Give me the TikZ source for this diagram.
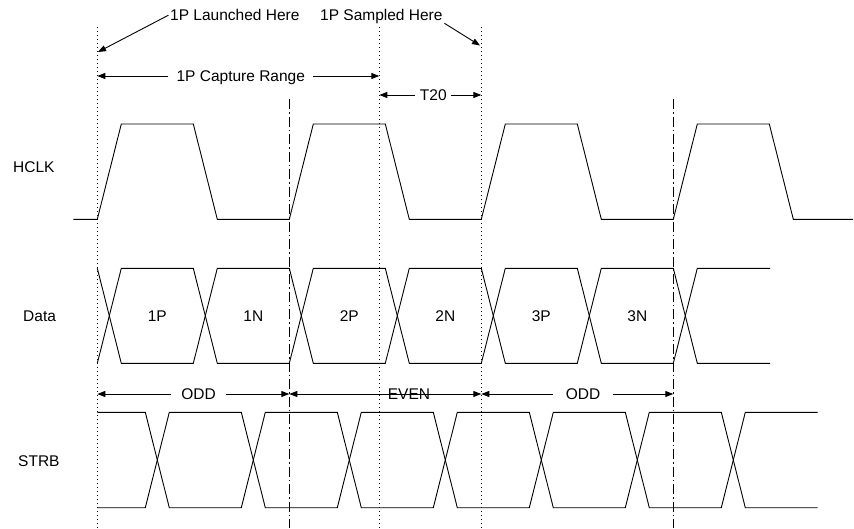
\documentclass[tikz,border=0pt]{standalone}
\usepackage{fontspec}
\setmainfont{Liberation Sans}
\usetikzlibrary{arrows.meta}
\begin{document}
\begin{tikzpicture}[x=1pt,y=-1pt,
  wave/.style={line width=0.9pt, line join=miter},
  dotguide/.style={line width=1pt, dash pattern=on 1.1pt off 2.9pt},
  dashdotguide/.style={line width=0.9pt, dash pattern=on 10pt off 3pt on 1.5pt off 3pt},
  dim/.style={line width=0.9pt, -{Triangle[length=8pt,width=6pt]}},
  dimboth/.style={line width=0.9pt, {Triangle[length=8pt,width=6pt]}-{Triangle[length=8pt,width=6pt]}},
  lbl/.style={font=\fontsize{15.5pt}{18pt}\selectfont, inner sep=0pt, anchor=base},
]
\path[use as bounding box] (0,0) rectangle (854,528);

% guide lines
\coordinate (g1t) at (97.3,27);  \coordinate (g1b) at (97.3,528);
\coordinate (g2t) at (289.3,99); \coordinate (g2b) at (289.3,528);
\coordinate (g3t) at (379.3,27); \coordinate (g3b) at (379.3,528);
\coordinate (g4t) at (481.3,27); \coordinate (g4b) at (481.3,528);
\coordinate (g5t) at (673.3,99); \coordinate (g5b) at (673.3,528);
\draw[dotguide] (g1t) -- (g1b);
\draw[dashdotguide] (g2t) -- (g2b);
\draw[dotguide] (g3t) -- (g3b);
\draw[dotguide] (g4t) -- (g4b);
\draw[dashdotguide] (g5t) -- (g5b);

% signal names
\node[lbl, anchor=base west] (hclk) at (13,172.7) {HCLK};
\node[lbl, anchor=base west] (data) at (23,321) {Data};
\node[lbl, anchor=base west] (strb) at (18,466) {STRB};

% HCLK
\draw[wave] (73.3,219.3) -- (97.3,219.3) -- (121.3,124) -- (193.3,124) -- (217.3,219.3)
  -- (289.3,219.3) -- (313.3,124) -- (385.3,124) -- (409.3,219.3) -- (481.3,219.3)
  -- (505.3,124) -- (577.3,124) -- (601.3,219.3) -- (673.3,219.3) -- (697.3,124)
  -- (769.3,124) -- (793.3,219.3) -- (853,219.3);

% Data
\draw[wave] (97.3,268.3) -- (121.3,363.3) -- (193.3,363.3) -- (217.3,268.3) -- (289.3,268.3)
  -- (313.3,363.3) -- (385.3,363.3) -- (409.3,268.3) -- (481.3,268.3) -- (505.3,363.3)
  -- (577.3,363.3) -- (601.3,268.3) -- (673.3,268.3) -- (697.3,363.3) -- (770,363.3);
\draw[wave] (97.3,363.3) -- (121.3,268.3) -- (193.3,268.3) -- (217.3,363.3) -- (289.3,363.3)
  -- (313.3,268.3) -- (385.3,268.3) -- (409.3,363.3) -- (481.3,363.3) -- (505.3,268.3)
  -- (577.3,268.3) -- (601.3,363.3) -- (673.3,363.3) -- (697.3,268.3) -- (770,268.3);
\node[lbl] (d1p) at (157.3,321.5) {1P};
\node[lbl] (d1n) at (253.3,321.5) {1N};
\node[lbl] (d2p) at (349.3,321.5) {2P};
\node[lbl] (d2n) at (445.3,321.5) {2N};
\node[lbl] (d3p) at (541.3,321.5) {3P};
\node[lbl] (d3n) at (637.3,321.5) {3N};

% STRB
\draw[wave] (97.3,412.3) -- (145.3,412.3) -- (169.3,507.7) -- (241.3,507.7) -- (265.3,412.3)
  -- (337.3,412.3) -- (361.3,507.7) -- (433.3,507.7) -- (457.3,412.3) -- (529.3,412.3)
  -- (553.3,507.7) -- (625.3,507.7) -- (649.3,412.3) -- (721.3,412.3) -- (745.3,507.7)
  -- (817.7,507.7);
\draw[wave] (97.3,507.7) -- (145.3,507.7) -- (169.3,412.3) -- (241.3,412.3) -- (265.3,507.7)
  -- (337.3,507.7) -- (361.3,412.3) -- (433.3,412.3) -- (457.3,507.7) -- (529.3,507.7)
  -- (553.3,412.3) -- (625.3,412.3) -- (649.3,507.7) -- (721.3,507.7) -- (745.3,412.3)
  -- (817.7,412.3);

% top annotations
\node[lbl, anchor=base west] (launch) at (170,20.7) {1P Launched Here};
\node[lbl, anchor=base west] (sampled) at (320,20.7) {1P Sampled Here};
\coordinate (launchTip) at (98,52);
\coordinate (sampledTip) at (480,45.5);
\draw[dim] ([xshift=-1.5pt]launch.west) -- (launchTip);
\draw[dim] ([shift={(1.7pt,-2.6pt)}]sampled.base east) -- (sampledTip);

% capture range
\node[lbl, inner xsep=8pt] (cap) at (240.8,81.7) {1P Capture Range};
\coordinate (capL) at (97.3,76);
\coordinate (capR) at (379.3,76);
\draw[dim] (cap.west |- capL) -- (capL);
\draw[dim] (cap.east |- capR) -- (capR);

% T20
\node[lbl, inner xsep=4.5pt] (t20) at (433.3,100.7) {T20};
\coordinate (t20L) at (379.3,95);
\coordinate (t20R) at (481.3,95);
\draw[dim] (t20.west |- t20L) -- (t20L);
\draw[dim] (t20.east |- t20R) -- (t20R);

% ODD / EVEN / ODD
\node[lbl, inner xsep=10pt] (odd1) at (198.5,399.3) {ODD};
\coordinate (odd1L) at (97.3,394);
\coordinate (odd1R) at (289.3,394);
\draw[dim] (odd1.west |- odd1L) -- (odd1L);
\draw[dim] (odd1.east |- odd1R) -- (odd1R);

\coordinate (evenL) at (289.3,394);
\coordinate (evenR) at (481.3,394);
\draw[dimboth] (evenL) -- (evenR);
\node[lbl] (even) at (409,399.3) {EVEN};

\node[lbl, inner xsep=12.5pt] (odd2) at (583,399.3) {ODD};
\coordinate (odd2L) at (481.3,394);
\coordinate (odd2R) at (673.3,394);
\draw[dim] (odd2.west |- odd2L) -- (odd2L);
\draw[dim] (odd2.east |- odd2R) -- (odd2R);
\end{tikzpicture}
\end{document}
